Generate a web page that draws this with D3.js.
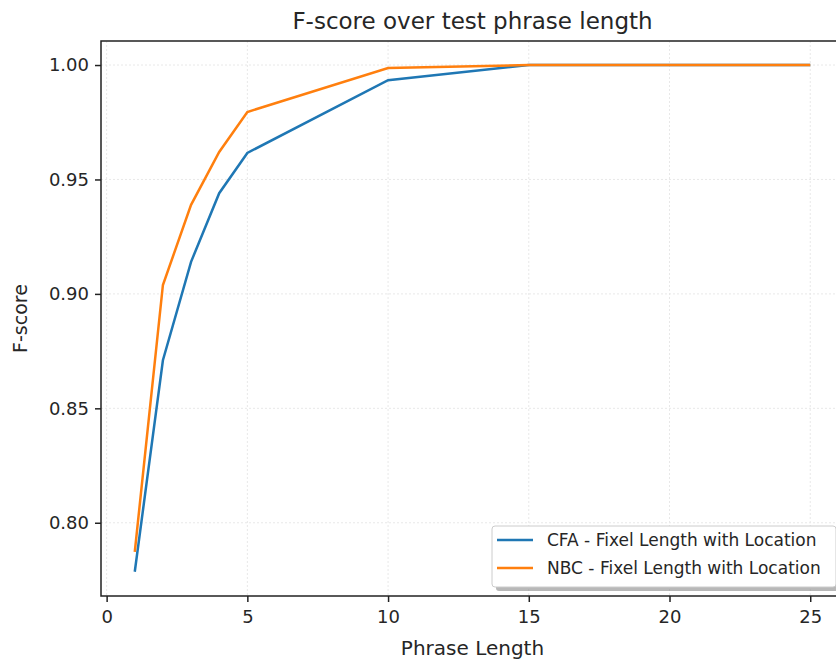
<!DOCTYPE html>
<html>
<head>
<meta charset="utf-8">
<script src="https://cdn.jsdelivr.net/npm/d3@7"></script>
<style>
    body { margin: 0; background: #fff; }
    text { font-family: "DejaVu Sans", sans-serif; fill: #262626; }
</style>
</head>
<body>
<div id="chart"></div>
<script>
var phraseLength = [1, 2, 3, 4, 5, 10, 15, 20, 25];
var cfaScore = [0.7786, 0.871, 0.914, 0.944, 0.9616, 0.9934, 1.0, 1.0, 1.0];
var nbcScore = [0.7873, 0.9039, 0.9389, 0.962, 0.9795, 0.9987, 1.0, 1.0, 1.0];
var seriesNames = ["CFA - Fixel Length with Location", "NBC - Fixel Length with Location"];
var xTicks = [0, 5, 10, 15, 20, 25];
var yTicks = [0.80, 0.85, 0.90, 0.95, 1.00];

var width = 836, height = 660;
var margin = {top: 41, left: 101, bottom: 64};
var plotRight = 844;

var svg = d3.select("#chart").append("svg")
    .attr("width", width)
    .attr("height", height);

var x = d3.scaleLinear().domain([-0.2, 26.2]).range([margin.left, plotRight]);
var y = d3.scaleLinear().domain([0.768, 1.0105]).range([height - margin.bottom, margin.top]);

// grid
svg.append("g").selectAll("line")
    .data(xTicks).enter().append("line")
    .attr("x1", function(d){ return x(d); })
    .attr("x2", function(d){ return x(d); })
    .attr("y1", y.range()[1]).attr("y2", y.range()[0])
    .attr("stroke", "#e8e8e8").attr("stroke-width", 1).attr("stroke-dasharray", "2,2");
svg.append("g").selectAll("line")
    .data(yTicks).enter().append("line")
    .attr("y1", function(d){ return y(d); })
    .attr("y2", function(d){ return y(d); })
    .attr("x1", x.range()[0]).attr("x2", x.range()[1])
    .attr("stroke", "#e8e8e8").attr("stroke-width", 1).attr("stroke-dasharray", "2,2");

// lines
var line = d3.line()
    .x(function(d){ return x(d[0]); })
    .y(function(d){ return y(d[1]); });
var colors = ["#1f77b4", "#ff7f0e"];
[cfaScore, nbcScore].forEach(function(s, i){
    svg.append("path")
        .datum(d3.zip(phraseLength, s))
        .attr("d", line)
        .attr("fill", "none")
        .attr("stroke", colors[i])
        .attr("stroke-width", 2.5);
});

// axes
var xAxis = svg.append("g")
    .attr("transform", "translate(0," + y.range()[0] + ")")
    .call(d3.axisBottom(x).tickValues(xTicks).tickFormat(d3.format("d")).tickSize(6).tickPadding(5));
var yAxis = svg.append("g")
    .attr("transform", "translate(" + x.range()[0] + ",0)")
    .call(d3.axisLeft(y).tickValues(yTicks).tickFormat(d3.format(".2f")).tickSize(6).tickPadding(6));
[xAxis, yAxis].forEach(function(a){
    a.select(".domain").remove();
    a.selectAll(".tick line").attr("stroke", "#222").attr("stroke-width", 1.5);
    a.selectAll(".tick text").style("font-size", "18px").attr("fill", "#262626");
});
xAxis.selectAll(".tick text").attr("dy", "0.9em");

// frame
svg.append("rect")
    .attr("x", x.range()[0]).attr("y", y.range()[1])
    .attr("width", plotRight - x.range()[0])
    .attr("height", y.range()[0] - y.range()[1])
    .attr("fill", "none").attr("stroke", "#222").attr("stroke-width", 1.5);

// labels
svg.append("text")
    .attr("x", (x.range()[0] + plotRight) / 2).attr("y", 29)
    .attr("text-anchor", "middle").style("font-size", "23px")
    .text("F-score over test phrase length");
svg.append("text")
    .attr("x", (x.range()[0] + plotRight) / 2).attr("y", 655)
    .attr("text-anchor", "middle").style("font-size", "20px")
    .text("Phrase Length");
svg.append("text")
    .attr("transform", "translate(27," + ((y.range()[0] + y.range()[1]) / 2) + ") rotate(-90)")
    .attr("text-anchor", "middle").style("font-size", "19px")
    .text("F-score");

// legend
var lg = svg.append("g").attr("transform", "translate(492,526)");
lg.append("rect")
    .attr("x", 4).attr("y", 4).attr("width", 344).attr("height", 61).attr("rx", 3)
    .attr("fill", "#888").attr("opacity", 0.6);
lg.append("rect")
    .attr("width", 344).attr("height", 61).attr("rx", 3)
    .attr("fill", "#fff").attr("stroke", "#cccccc").attr("stroke-width", 1);
seriesNames.forEach(function(name, i){
    var ry = 14 + i * 28;
    lg.append("line")
        .attr("x1", 5).attr("x2", 41).attr("y1", ry).attr("y2", ry)
        .attr("stroke", colors[i]).attr("stroke-width", 2.5);
    lg.append("text")
        .attr("x", 55).attr("y", ry).attr("dy", "0.35em")
        .style("font-size", "17px")
        .text(name);
});
</script>
</body>
</html>
